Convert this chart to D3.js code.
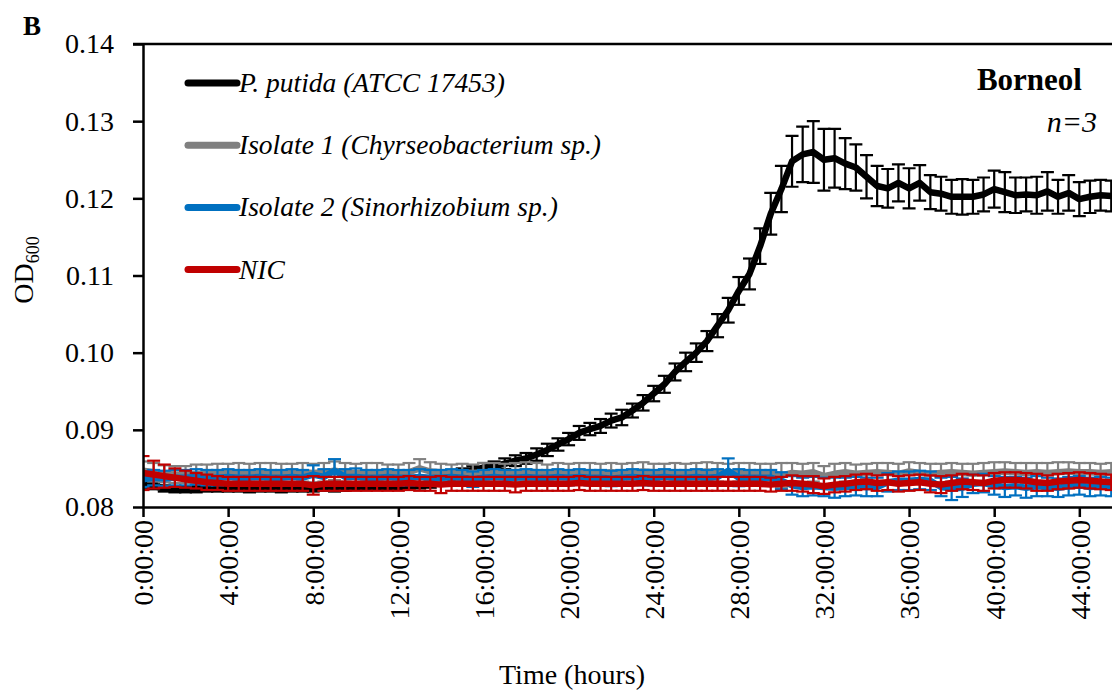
<!DOCTYPE html>
<html>
<head>
<meta charset="utf-8">
<script src="https://cdn.jsdelivr.net/npm/d3@7/dist/d3.min.js"></script>
<style>
  html, body { margin: 0; padding: 0; background: #fff; }
  svg { display: block; font-family: "Liberation Serif", "Times New Roman", serif; }
</style>
</head>
<body>
<div id="chart"></div>
<script>
// readings every 30 min, starting at 0:00:00
const stepHours = 0.5;

const seriesNames = [
  "P. putida (ATCC 17453)",
  "Isolate 1 (Chyrseobacterium sp.)",
  "Isolate 2 (Sinorhizobium sp.)",
  "NIC"
];

const pputida = [
  0.0830,0.0827,0.0824,0.0823,0.0823,0.0823,0.0824,0.0824,0.0824,0.0824,
  0.0823,0.0824,0.0824,0.0823,0.0824,0.0824,0.0824,0.0825,0.0824,0.0825,
  0.0826,0.0826,0.0827,0.0827,0.0827,0.0828,0.0828,0.0830,0.0834,0.0840,
  0.0845,0.0848,0.0851,0.0853,0.0856,0.0860,0.0863,0.0868,0.0874,0.0881,
  0.0888,0.0896,0.0901,0.0905,0.0912,0.0916,0.0925,0.0935,0.0947,0.0959,
  0.0975,0.0988,0.1000,0.1015,0.1035,0.1055,0.1080,0.1102,0.1138,0.1180,
  0.1212,0.1248,0.1257,0.1260,0.1250,0.1252,0.1245,0.1240,0.1228,0.1216,
  0.1213,0.1220,0.1213,0.1220,0.1208,0.1206,0.1202,0.1202,0.1202,0.1205,
  0.1212,0.1208,0.1204,0.1205,0.1204,0.1209,0.1202,0.1207,0.1199,0.1202,
  0.1204,0.1203
];
const pputidaSd = [
  0.0005,0.0004,0.0004,0.0004,0.0004,0.0004,0.0004,0.0004,0.0004,0.0004,
  0.0004,0.0004,0.0004,0.0004,0.0004,0.0004,0.0004,0.0004,0.0004,0.0004,
  0.0004,0.0004,0.0004,0.0004,0.0004,0.0004,0.0004,0.0005,0.0005,0.0005,
  0.0005,0.0005,0.0006,0.0006,0.0007,0.0007,0.0007,0.0008,0.0008,0.0008,
  0.0008,0.0009,0.0008,0.0009,0.0009,0.0010,0.0009,0.0010,0.0010,0.0011,
  0.0011,0.0012,0.0012,0.0013,0.0015,0.0016,0.0018,0.0020,0.0023,0.0027,
  0.0030,0.0033,0.0036,0.0040,0.0040,0.0038,0.0033,0.0030,0.0028,0.0026,
  0.0025,0.0024,0.0026,0.0023,0.0022,0.0022,0.0022,0.0023,0.0022,0.0022,
  0.0024,0.0026,0.0023,0.0022,0.0024,0.0025,0.0022,0.0023,0.0022,0.0021,
  0.0020,0.0020
];

const isolate1 = [
  0.0847,0.0845,0.0843,0.0842,0.0842,0.0843,0.0843,0.0844,0.0844,0.0845,
  0.0844,0.0845,0.0845,0.0844,0.0844,0.0845,0.0844,0.0845,0.0847,0.0845,
  0.0844,0.0845,0.0845,0.0844,0.0844,0.0845,0.0850,0.0846,0.0845,0.0844,
  0.0845,0.0844,0.0845,0.0845,0.0844,0.0845,0.0846,0.0845,0.0844,0.0845,
  0.0844,0.0845,0.0845,0.0844,0.0845,0.0844,0.0845,0.0846,0.0845,0.0844,
  0.0845,0.0844,0.0845,0.0846,0.0845,0.0844,0.0845,0.0845,0.0844,0.0844,
  0.0841,0.0844,0.0843,0.0845,0.0840,0.0843,0.0845,0.0843,0.0844,0.0845,
  0.0844,0.0843,0.0846,0.0844,0.0843,0.0844,0.0845,0.0844,0.0843,0.0844,
  0.0845,0.0846,0.0845,0.0844,0.0845,0.0844,0.0845,0.0846,0.0845,0.0845,
  0.0844,0.0845
];
const isolate1Sd = [
  0.0012,0.0012,0.0011,0.0011,0.0011,0.0012,0.0012,0.0012,0.0012,0.0012,
  0.0012,0.0012,0.0012,0.0012,0.0012,0.0012,0.0012,0.0012,0.0012,0.0012,
  0.0012,0.0012,0.0012,0.0011,0.0011,0.0012,0.0012,0.0012,0.0011,0.0011,
  0.0011,0.0011,0.0012,0.0012,0.0012,0.0012,0.0012,0.0012,0.0011,0.0012,
  0.0012,0.0012,0.0012,0.0012,0.0012,0.0012,0.0012,0.0012,0.0011,0.0012,
  0.0012,0.0012,0.0012,0.0012,0.0012,0.0012,0.0012,0.0012,0.0012,0.0012,
  0.0016,0.0013,0.0013,0.0012,0.0013,0.0013,0.0012,0.0012,0.0012,0.0012,
  0.0013,0.0013,0.0012,0.0013,0.0013,0.0012,0.0012,0.0012,0.0013,0.0013,
  0.0013,0.0012,0.0012,0.0013,0.0012,0.0013,0.0013,0.0012,0.0012,0.0012,
  0.0012,0.0012
];

const isolate2 = [
  0.0836,0.0838,0.0837,0.0838,0.0838,0.0839,0.0838,0.0838,0.0839,0.0838,
  0.0838,0.0839,0.0838,0.0838,0.0839,0.0838,0.0842,0.0839,0.0847,0.0839,
  0.0839,0.0838,0.0838,0.0839,0.0838,0.0838,0.0839,0.0838,0.0838,0.0839,
  0.0838,0.0836,0.0838,0.0839,0.0838,0.0838,0.0839,0.0838,0.0838,0.0839,
  0.0838,0.0839,0.0838,0.0838,0.0837,0.0838,0.0839,0.0838,0.0838,0.0839,
  0.0838,0.0838,0.0839,0.0838,0.0839,0.0847,0.0838,0.0838,0.0838,0.0838,
  0.0834,0.0828,0.0826,0.0827,0.0826,0.0825,0.0826,0.0827,0.0826,0.0826,
  0.0832,0.0834,0.0834,0.0835,0.0834,0.0826,0.0824,0.0825,0.0830,0.0831,
  0.0828,0.0826,0.0827,0.0825,0.0827,0.0826,0.0825,0.0827,0.0828,0.0826,
  0.0827,0.0826
];
const isolate2Sd = [
  0.0010,0.0010,0.0010,0.0010,0.0010,0.0010,0.0010,0.0010,0.0010,0.0010,
  0.0010,0.0010,0.0010,0.0010,0.0010,0.0010,0.0012,0.0010,0.0015,0.0010,
  0.0011,0.0010,0.0010,0.0010,0.0010,0.0010,0.0010,0.0010,0.0010,0.0010,
  0.0010,0.0010,0.0010,0.0010,0.0010,0.0010,0.0010,0.0010,0.0010,0.0010,
  0.0010,0.0010,0.0010,0.0010,0.0010,0.0010,0.0010,0.0010,0.0010,0.0010,
  0.0010,0.0010,0.0010,0.0010,0.0010,0.0016,0.0011,0.0010,0.0010,0.0010,
  0.0011,0.0012,0.0012,0.0012,0.0012,0.0013,0.0012,0.0012,0.0012,0.0012,
  0.0012,0.0012,0.0012,0.0012,0.0012,0.0012,0.0015,0.0012,0.0012,0.0012,
  0.0012,0.0013,0.0012,0.0013,0.0013,0.0012,0.0012,0.0012,0.0012,0.0012,
  0.0012,0.0012
];

const nic = [
  0.0844,0.0842,0.0840,0.0838,0.0836,0.0834,0.0832,0.0831,0.0830,0.0830,
  0.0830,0.0830,0.0830,0.0830,0.0830,0.0830,0.0828,0.0830,0.0830,0.0830,
  0.0830,0.0830,0.0830,0.0830,0.0830,0.0831,0.0830,0.0830,0.0829,0.0830,
  0.0830,0.0830,0.0830,0.0830,0.0830,0.0829,0.0830,0.0830,0.0830,0.0830,
  0.0830,0.0831,0.0830,0.0830,0.0830,0.0830,0.0830,0.0831,0.0830,0.0830,
  0.0830,0.0830,0.0830,0.0830,0.0830,0.0830,0.0830,0.0830,0.0830,0.0829,
  0.0830,0.0831,0.0830,0.0829,0.0827,0.0829,0.0830,0.0832,0.0833,0.0831,
  0.0832,0.0830,0.0831,0.0832,0.0830,0.0829,0.0831,0.0833,0.0832,0.0831,
  0.0834,0.0835,0.0835,0.0834,0.0832,0.0831,0.0833,0.0834,0.0835,0.0834,
  0.0833,0.0832
];
const nicSd = [
  0.0022,0.0018,0.0015,0.0012,0.0011,0.0010,0.0010,0.0009,0.0009,0.0009,
  0.0009,0.0009,0.0009,0.0009,0.0009,0.0009,0.0012,0.0009,0.0009,0.0009,
  0.0009,0.0009,0.0009,0.0009,0.0009,0.0009,0.0009,0.0009,0.0011,0.0009,
  0.0009,0.0009,0.0009,0.0009,0.0009,0.0010,0.0009,0.0009,0.0009,0.0009,
  0.0009,0.0009,0.0009,0.0009,0.0009,0.0009,0.0009,0.0009,0.0009,0.0009,
  0.0009,0.0009,0.0009,0.0009,0.0009,0.0009,0.0009,0.0009,0.0009,0.0009,
  0.0009,0.0010,0.0010,0.0011,0.0010,0.0010,0.0010,0.0010,0.0010,0.0010,
  0.0010,0.0010,0.0010,0.0010,0.0011,0.0011,0.0010,0.0010,0.0010,0.0010,
  0.0010,0.0010,0.0010,0.0010,0.0011,0.0010,0.0010,0.0010,0.0010,0.0010,
  0.0010,0.0010
];

const xTickHours = [0, 4, 8, 12, 16, 20, 24, 28, 32, 36, 40, 44];
const xTickLabels = ["0:00:00", "4:00:00", "8:00:00", "12:00:00", "16:00:00", "20:00:00",
  "24:00:00", "28:00:00", "32:00:00", "36:00:00", "40:00:00", "44:00:00"];
const yTicks = [0.08, 0.09, 0.10, 0.11, 0.12, 0.13, 0.14];

const colors = ["#000000", "#808080", "#0070c0", "#c00000"];

const totalW = 1112, totalH = 691;
const margin = { top: 44, left: 143 };
const hourPx = 21.28;
const plotW = 48 * hourPx;   // the page crops the plot on the right
const plotH = 463;

const svg = d3.select("#chart").append("svg")
  .attr("width", totalW)
  .attr("height", totalH);

const g = svg.append("g")
  .attr("transform", `translate(${margin.left},${margin.top})`);

const x = d3.scaleLinear().domain([0, 48]).range([0, plotW]);
const y = d3.scaleLinear().domain([0.08, 0.14]).range([plotH, 0]);

const series = [
  { name: seriesNames[0], values: pputida, sd: pputidaSd, color: colors[0] },
  { name: seriesNames[1], values: isolate1, sd: isolate1Sd, color: colors[1] },
  { name: seriesNames[2], values: isolate2, sd: isolate2Sd, color: colors[2] },
  { name: seriesNames[3], values: nic, sd: nicSd, color: colors[3] }
];

g.append("clipPath").attr("id", "plot-clip")
  .append("rect")
  .attr("x", 0).attr("y", -2)
  .attr("width", plotW).attr("height", plotH + 2);

const plot = g.append("g").attr("clip-path", "url(#plot-clip)");

const line = d3.line()
  .x((d, i) => x(i * stepHours))
  .y(d => y(d));

const capW = 13;

series.forEach(s => {
  const pts = s.values.map((v, i) => ({ t: i * stepHours, v: v, sd: s.sd[i] }));
  const bars = plot.append("g")
    .attr("stroke", s.color)
    .attr("stroke-width", 2.2);

  bars.selectAll("line.stem")
    .data(pts).enter().append("line")
    .attr("class", "stem")
    .attr("x1", d => x(d.t)).attr("x2", d => x(d.t))
    .attr("y1", d => y(d.v - d.sd)).attr("y2", d => y(d.v + d.sd));
  bars.selectAll("line.captop")
    .data(pts).enter().append("line")
    .attr("class", "captop")
    .attr("x1", d => x(d.t) - capW / 2).attr("x2", d => x(d.t) + capW / 2)
    .attr("y1", d => y(d.v + d.sd)).attr("y2", d => y(d.v + d.sd));
  bars.selectAll("line.capbot")
    .data(pts).enter().append("line")
    .attr("class", "capbot")
    .attr("x1", d => x(d.t) - capW / 2).attr("x2", d => x(d.t) + capW / 2)
    .attr("y1", d => y(d.v - d.sd)).attr("y2", d => y(d.v - d.sd));

  plot.append("path")
    .datum(s.values)
    .attr("fill", "none")
    .attr("stroke", s.color)
    .attr("stroke-width", 6.5)
    .attr("stroke-linejoin", "round")
    .attr("stroke-linecap", "round")
    .attr("d", line);
});

// axes
const yAxis = g.append("g")
  .call(d3.axisLeft(y).tickValues(yTicks).tickFormat(d3.format(".2f"))
    .tickSize(10).tickSizeOuter(0).tickPadding(19));
const xAxis = g.append("g")
  .attr("transform", `translate(0,${plotH})`)
  .call(d3.axisBottom(x).tickValues(xTickHours).tickFormat((d, i) => xTickLabels[i])
    .tickSize(10).tickSizeOuter(0));

[yAxis, xAxis].forEach(a => {
  a.select(".domain").attr("stroke", "#000").attr("stroke-width", 2.5);
  a.selectAll(".tick line").attr("stroke", "#000").attr("stroke-width", 2.5);
  a.selectAll(".tick text")
    .attr("fill", "#000")
    .style("font-family", "'Liberation Serif', 'Times New Roman', serif")
    .style("font-size", "28px");
});

xAxis.selectAll(".tick text")
  .attr("transform", "rotate(-90)")
  .attr("x", -13)
  .attr("y", 0)
  .attr("dy", "0.35em")
  .attr("text-anchor", "end");

// plot border (top and right)
g.append("path")
  .attr("d", `M0,0H${plotW}V${plotH}`)
  .attr("fill", "none")
  .attr("stroke", "#000")
  .attr("stroke-width", 2.5);
g.append("line")
  .attr("x1", -10).attr("x2", 0).attr("y1", 0).attr("y2", 0)
  .attr("stroke", "#000").attr("stroke-width", 2.5);

// titles
svg.append("text")
  .attr("x", 572).attr("y", 684)
  .attr("text-anchor", "middle")
  .style("font-size", "28px")
  .text("Time (hours)");

const yLab = svg.append("text")
  .attr("transform", "translate(33,270) rotate(-90)")
  .attr("text-anchor", "middle")
  .style("font-size", "28px");
yLab.append("tspan").text("OD");
yLab.append("tspan").attr("dy", 6).style("font-size", "18px").text("600");

svg.append("text")
  .attr("x", 23).attr("y", 35)
  .style("font-size", "27px").style("font-weight", "bold")
  .text("B");

svg.append("text")
  .attr("x", 1082).attr("y", 90)
  .attr("text-anchor", "end")
  .style("font-size", "31px").style("font-weight", "bold")
  .text("Borneol");

svg.append("text")
  .attr("x", 1097).attr("y", 132)
  .attr("text-anchor", "end")
  .style("font-size", "30px").style("font-style", "italic")
  .text("n=3");

// legend
const legend = svg.append("g").attr("transform", "translate(188,83)");
series.forEach((s, i) => {
  const row = legend.append("g").attr("transform", `translate(0,${i * 62.2})`);
  row.append("line")
    .attr("x1", 0).attr("x2", 49)
    .attr("stroke", s.color)
    .attr("stroke-width", 7)
    .attr("stroke-linecap", "round");
  row.append("text")
    .attr("x", 51).attr("y", 9)
    .style("font-size", "27.5px").style("font-style", "italic")
    .text(s.name);
});
</script>
</body>
</html>
